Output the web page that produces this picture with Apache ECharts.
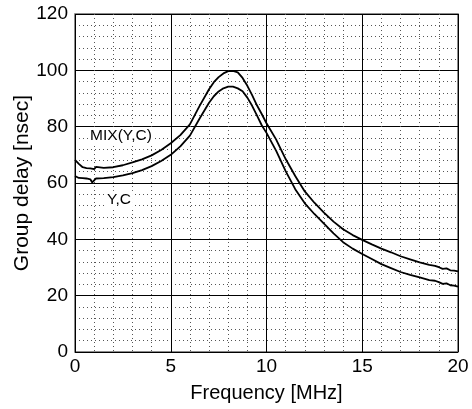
<!DOCTYPE html>
<html>
<head>
<meta charset="utf-8">
<script src="https://cdn.jsdelivr.net/npm/echarts@6/dist/echarts.min.js"></script>
<style>
html,body{margin:0;padding:0;background:#fff;}
#c{width:472px;height:409px;}
</style>
</head>
<body>
<div id="c"></div>
<script>
// Frequency points [MHz]
const freq = [0,0.1,0.2,0.3,0.4,0.5,0.6,0.7,0.8,0.9,1.0,1.1,1.2,1.5,2.0,2.5,3.0,3.5,4.0,4.5,5.0,5.5,6.0,6.5,7.0,7.25,7.5,7.75,8.0,8.25,8.5,8.75,9.0,9.25,9.5,9.75,10.0,10.5,11.0,11.5,12.0,12.5,13.0,13.5,14.0,14.5,15.0,15.5,16.0,16.5,17.0,17.5,18.0,18.5,18.8,19.0,19.2,19.4,19.6,19.8,20.0];
// Group delay MIX(Y,C) [nsec]
const mixYC = [68.2,67.8,66.8,66.2,65.6,65.9,65.3,65.7,65.2,65.6,64.9,65.7,65.5,65.4,65.6,66.3,67.3,68.4,69.8,71.7,74.1,77.0,80.8,87.3,93.3,95.8,97.6,98.9,99.7,99.8,99.3,97.3,94.5,91.2,87.6,84.5,81.2,75.5,68.5,62.5,57.0,53.0,49.5,46.3,43.6,41.5,39.8,38.2,36.7,35.4,34.0,32.9,31.8,30.9,30.6,30.1,29.5,29.7,29.0,28.9,28.6];
// Group delay Y,C [nsec]
const yc = [62.5,62.2,61.8,61.5,61.7,61.2,61.6,61.0,61.3,60.2,60.6,61.6,61.4,61.7,62.1,62.7,63.5,64.6,66.0,67.8,70.0,73.0,76.8,82.8,88.5,90.8,92.5,93.6,94.2,94.2,93.6,92.6,90.3,87.4,84.0,80.5,77.8,71.5,64.2,57.8,52.8,49.0,45.6,42.1,39.0,36.7,34.8,33.0,31.2,29.8,28.4,27.4,26.5,25.5,25.3,24.8,24.2,24.4,23.7,23.6,23.2];
// Curve annotations: [label, freq, delay]
const annotations = [["MIX(Y,C)", 2.4, 76.7], ["Y,C", 2.3, 54]];

const FONT = "'Liberation Sans', Arial, Helvetica, sans-serif";
const toPairs = (xs, ys) => xs.map((x, i) => [x, ys[i]]);

const chart = echarts.init(document.getElementById('c'), null, {renderer: 'canvas'});
chart.setOption({
  animation: false,
  backgroundColor: '#fff',
  grid: {left: 75, right: 14, top: 14, bottom: 57, containLabel: false, outerBoundsMode: 'none',
         show: true, borderColor: '#666', borderWidth: 1.5, backgroundColor: 'transparent'},
  xAxis: {
    type: 'value', min: 0, max: 20, interval: 5,
    name: 'Frequency [MHz]', nameLocation: 'middle', nameGap: 31, nameMoveOverlap: false,
    nameTextStyle: {fontFamily: FONT, fontSize: 20, color: '#000'},
    axisLabel: {fontFamily: FONT, fontSize: 19, color: '#000', margin: 5},
    axisLine: {show: false}, axisTick: {show: false},
    splitLine: {show: true, lineStyle: {color: '#000', width: 1}},
    minorTick: {show: false, splitNumber: 5},
    minorSplitLine: {show: true, lineStyle: {color: '#555', width: 1, type: [1, 3]}}
  },
  yAxis: {
    type: 'value', min: 0, max: 120, interval: 20,
    name: 'Group delay [nsec]', nameLocation: 'middle', nameGap: 42, nameMoveOverlap: false,
    nameTextStyle: {fontFamily: FONT, fontSize: 21, color: '#000'},
    axisLabel: {fontFamily: FONT, fontSize: 19, color: '#000', margin: 7},
    axisLine: {show: false}, axisTick: {show: false},
    splitLine: {show: true, lineStyle: {color: '#000', width: 1}},
    minorTick: {show: false, splitNumber: 5},
    minorSplitLine: {show: true, lineStyle: {color: '#555', width: 1, type: [1, 3]}}
  },
  series: [
    {
      name: 'MIX(Y,C)', type: 'line', data: toPairs(freq, mixYC),
      showSymbol: false, symbol: 'none', lineStyle: {color: '#000', width: 1.8},
      markPoint: {
        symbol: 'rect', symbolSize: 0, silent: true,
        data: annotations.map(a => ({coord: [a[1], a[2]], value: a[0],
          label: {show: true, formatter: a[0], position: 'inside', fontFamily: FONT, fontSize: 15.5, color: '#000',
                  backgroundColor: '#fff', padding: [1, 2]}}))
      }
    },
    {
      name: 'Y,C', type: 'line', data: toPairs(freq, yc),
      showSymbol: false, symbol: 'none', lineStyle: {color: '#000', width: 1.8}
    }
  ]
});
</script>
</body>
</html>
